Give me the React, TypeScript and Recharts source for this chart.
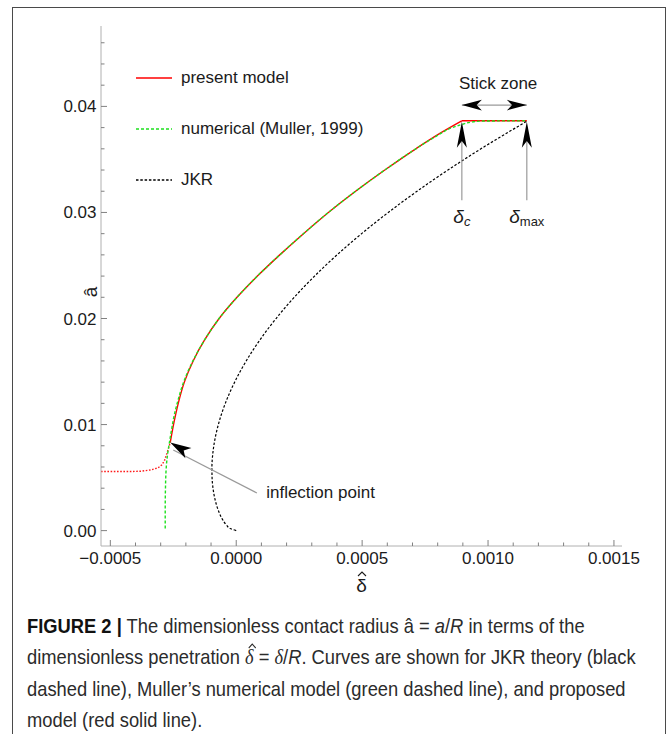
import React from 'react';
import { LineChart, Line, XAxis, YAxis, ReferenceLine, ReferenceDot, Legend } from 'recharts';

// present model, solid branch (delta-hat, a-hat), from the inflection point up to delta_c
const modelDelta = [-0.000262, -0.000253, -0.00024, -0.000227, -0.000206, -0.000171, -0.000125, -0.000068, 0.000003, 0.000084, 0.000173, 0.000267, 0.000366, 0.000474, 0.00059, 0.000713, 0.000812, 0.000896];
const modelA = [0.0083, 0.0095, 0.011, 0.0123, 0.014, 0.016, 0.018, 0.02, 0.022, 0.024, 0.026, 0.028, 0.03, 0.032, 0.034, 0.036, 0.0375, 0.03864];

// present model, flat branch in the stick zone
const modelFlatDelta = [0.000896, 0.001154];
const modelFlatA = [0.03864, 0.03864];

// present model, dotted branch below the inflection point
const modelDotDelta = [-0.000537, -0.00042, -0.00038, -0.00034, -0.00031, -0.000295, -0.000285, -0.000275, -0.000262];
const modelDotA = [0.00557, 0.00557, 0.0056, 0.00572, 0.00592, 0.0062, 0.0066, 0.0073, 0.0083];

// numerical (Muller, 1999)
const mullerDelta = [-0.000282, -0.000282, -0.000281, -0.000279, -0.000276, -0.000272, -0.000266, -0.000257, -0.000245, -0.000231, -0.000209, -0.000172, -0.000125, -0.000068, 0.000003, 0.000084, 0.000173, 0.000267, 0.000366, 0.000474, 0.00059, 0.000713, 0.000795, 0.000858, 0.0009, 0.000935, 0.000975, 0.001154];
const mullerA = [0.0002, 0.002, 0.004, 0.0055, 0.0065, 0.0073, 0.0082, 0.0095, 0.011, 0.0123, 0.014, 0.016, 0.018, 0.02, 0.022, 0.024, 0.026, 0.028, 0.03, 0.032, 0.034, 0.036, 0.0372, 0.038, 0.03832, 0.03852, 0.03862, 0.03864];

// JKR
const jkrDelta = [0, -0.0000242, -0.0000382, -0.0000531, -0.0000725, -0.0000847, -0.0000922, -0.0000959, -0.0000965, -0.0000941, -0.000089, -0.000071, -0.0000433, -0.0000063, 0.0000397, 0.0000946, 0.0001582, 0.0002304, 0.0003111, 0.0004003, 0.0004979, 0.0006038, 0.0007181, 0.0008407, 0.0009716, 0.001154];
const jkrA = [0, 0.0002, 0.0005, 0.001, 0.002, 0.003, 0.004, 0.005, 0.006, 0.007, 0.008, 0.01, 0.012, 0.014, 0.016, 0.018, 0.02, 0.022, 0.024, 0.026, 0.028, 0.03, 0.032, 0.034, 0.036, 0.0386];

const xTicks = [-0.0005, -0.0004, -0.0003, -0.0002, -0.0001, 0, 0.0001, 0.0002, 0.0003, 0.0004, 0.0005, 0.0006, 0.0007, 0.0008, 0.0009, 0.001, 0.0011, 0.0012, 0.0013, 0.0014, 0.0015];
const yTicks = [0, 0.002, 0.004, 0.006, 0.008, 0.01, 0.012, 0.014, 0.016, 0.018, 0.02, 0.022, 0.024, 0.026, 0.028, 0.03, 0.032, 0.034, 0.036, 0.038, 0.04, 0.042, 0.044, 0.046];

const xDomain = [-0.000537, 0.001532];
const yDomain = [-0.00145, 0.04758];

const legendOrder = ['present model', 'numerical (Muller, 1999)', 'JKR'];

// annotation anchors
const deltaC = 0.000896;
const deltaMax = 0.001154;

const zip = (xs: number[], ys: number[]) => xs.map((d, i) => ({ d, a: ys[i] }));
const modelData = zip(modelDelta, modelA);
const modelFlatData = zip(modelFlatDelta, modelFlatA);
const modelDotData = zip(modelDotDelta, modelDotA);
const mullerData = zip(mullerDelta, mullerA);
const jkrData = zip(jkrDelta, jkrA);

const FONT = '"Liberation Sans", Arial, Helvetica, sans-serif';
const INK = '#1b1b1b';
const FRAME = '#b0b0b0';
const TICK = '#808080';
const RED = '#ff0000';
const GREEN = '#1ee01e';

const isMajor = (v: number, step: number) => Math.abs(v / step - Math.round(v / step)) < 1e-6;
const fmtX = (v: number) => (v < -1e-9 ? '\u2212' : '') + Math.abs(v).toFixed(4);
const fmtY = (v: number) => v.toFixed(2);

const FrameTick = (props: any) => {
  const { x, y, payload, side } = props;
  const v = payload.value;
  const horiz = side === 'bottom' || side === 'top';
  const major = isMajor(v, horiz ? 0.0005 : 0.01);
  const len = major ? 6 : 3.5;
  let x2 = x;
  let y2 = y;
  if (side === 'bottom') y2 = y - len;
  if (side === 'top') y2 = y + len;
  if (side === 'left') x2 = x + len;
  if (side === 'right') x2 = x - len;
  return (
    <g>
      <line x1={x} y1={y} x2={x2} y2={y2} stroke={TICK} strokeWidth={1} />
      {major && side === 'bottom' && (
        <text x={x} y={y + 18} textAnchor="middle" fontFamily={FONT} fontSize={17} fill={INK}>
          {fmtX(v)}
        </text>
      )}
      {major && side === 'left' && (
        <text x={x - 4.5} y={y + 6} textAnchor="end" fontFamily={FONT} fontSize={17} fill={INK}>
          {fmtY(v)}
        </text>
      )}
    </g>
  );
};

const ArrowHead = ({ cx, cy, angle, len, half }: any) => (
  <polygon
    points={`0,0 ${-len},${-half} ${-len * 0.74},0 ${-len},${half}`}
    transform={`translate(${cx},${cy}) rotate(${angle})`}
    fill="#000"
  />
);

const legendDash: Record<string, string | undefined> = {
  'present model': undefined,
  'numerical (Muller, 1999)': '3 2',
  JKR: '2.5 1.8',
};

const renderLegend = (props: any) => {
  const items = (props.payload || [])
    .filter((p: any) => legendOrder.includes(p.value))
    .sort((p: any, q: any) => legendOrder.indexOf(p.value) - legendOrder.indexOf(q.value));
  return (
    <div>
      {items.map((p: any) => (
        <div key={p.value} style={{ height: 32, marginBottom: 19.3, display: 'flex', alignItems: 'center' }}>
          <svg width={36} height={32} style={{ display: 'block' }}>
            <line x1={0} y1={16} x2={36} y2={16} stroke={p.color} strokeWidth={1.5} strokeDasharray={legendDash[p.value]} />
          </svg>
          <span style={{ marginLeft: 9, fontFamily: FONT, fontSize: 17, color: INK, whiteSpace: 'nowrap' }}>{p.value}</span>
        </div>
      ))}
    </div>
  );
};

const note = (content: React.ReactNode, anchor: string = 'middle') => (p: any) => (
  <text x={p.cx} y={p.cy} textAnchor={anchor} dominantBaseline="central" fontFamily={FONT} fontSize={17} fill={INK}>
    {content}
  </text>
);

// delta with a drawn circumflex (caption)
const HatDelta = () => (
  <span style={{ position: 'relative', display: 'inline-block', fontFamily: '"Liberation Serif", serif', fontStyle: 'italic' }}>
    δ
    <svg width={10} height={6} style={{ position: 'absolute', left: 3, top: 1 }}>
      <polyline points="1,5 5,1 9,5" fill="none" stroke="#2b2b2b" strokeWidth={1.1} />
    </svg>
  </span>
);

export default function App() {
  return (
    <div style={{ position: 'absolute', left: 0, top: 0, width: 667, height: 734, background: '#fff', overflow: 'hidden' }}>
      <div
        style={{
          position: 'absolute',
          left: 12,
          top: 7,
          width: 652,
          height: 760,
          borderLeft: '1.5px solid #4a4a4a',
          borderTop: '1.5px solid #4a4a4a',
          borderRight: '1.5px solid #4a4a4a',
        }}
      />
      <div style={{ position: 'absolute', left: 0, top: 0 }}>
        <LineChart width={667} height={600} margin={{ top: 26, right: 45, bottom: 14, left: 0 }}>
          <XAxis
            dataKey="d"
            type="number"
            domain={xDomain}
            allowDataOverflow
            ticks={xTicks}
            interval={0}
            height={40}
            tickSize={0}
            tickMargin={0}
            tickLine={false}
            axisLine={{ stroke: FRAME }}
            tick={<FrameTick side="bottom" />}
            label={{
              content: (p: any) => {
                const cx = p.viewBox.x + p.viewBox.width / 2;
                const by = p.viewBox.y + 46;
                return (
                  <g>
                    <text x={cx} y={by} textAnchor="middle" fontFamily={FONT} fontSize={19} fill={INK}>δ</text>
                    <polyline points={`${cx - 3.5},${by - 16} ${cx + 0.5},${by - 20} ${cx + 4.5},${by - 16}`} fill="none" stroke={INK} strokeWidth={1.1} />
                  </g>
                );
              },
            }}
          />
          <XAxis
            xAxisId="t"
            orientation="top"
            dataKey="d"
            type="number"
            domain={xDomain}
            allowDataOverflow
            ticks={xTicks}
            interval={0}
            height={0}
            tickSize={0}
            tickMargin={0}
            tickLine={false}
            axisLine={{ stroke: FRAME }}
            tick={<FrameTick side="top" />}
          />
          <YAxis
            type="number"
            domain={yDomain}
            allowDataOverflow
            ticks={yTicks}
            interval={0}
            width={101}
            tickSize={0}
            tickMargin={0}
            tickLine={false}
            axisLine={{ stroke: FRAME }}
            tick={<FrameTick side="left" />}
            label={{
              content: () => (
                <text
                  x={90}
                  y={292}
                  transform="rotate(-90 90 292)"
                  textAnchor="middle"
                  dominantBaseline="central"
                  fontFamily={FONT}
                  fontSize={19}
                  fill={INK}
                >
                  â
                </text>
              ),
            }}
          />
          <YAxis
            yAxisId="r"
            orientation="right"
            type="number"
            domain={yDomain}
            allowDataOverflow
            ticks={yTicks}
            interval={0}
            width={0}
            tickSize={0}
            tickMargin={0}
            tickLine={false}
            axisLine={{ stroke: FRAME }}
            tick={<FrameTick side="right" />}
          />

          <Line data={modelDotData} dataKey="a" type="linear" stroke="#ff1a1a" strokeWidth={1.4} strokeDasharray="1.6 1.6" dot={false} activeDot={false} legendType="none" isAnimationActive={false} />
          <Line data={modelData} dataKey="a" name="present model" type="monotoneY" stroke={RED} strokeWidth={1.4} dot={false} activeDot={false} isAnimationActive={false} />
          <Line data={modelFlatData} dataKey="a" type="linear" stroke={RED} strokeWidth={1.4} dot={false} activeDot={false} legendType="none" isAnimationActive={false} />
          <Line data={mullerData} dataKey="a" name="numerical (Muller, 1999)" type="monotoneY" stroke={GREEN} strokeWidth={1.4} strokeDasharray="3 2" dot={false} activeDot={false} isAnimationActive={false} />
          <Line data={jkrData} dataKey="a" name="JKR" type="monotoneY" stroke="#000" strokeWidth={1.2} strokeDasharray="2.5 1.8" dot={false} activeDot={false} isAnimationActive={false} />

          {/* stick zone double arrow */}
          <ReferenceLine segment={[{ x: deltaC, y: 0.04012 }, { x: deltaMax, y: 0.04012 }]} stroke="#9a9a9a" strokeWidth={1.2} />
          <ReferenceDot x={deltaC} y={0.04012} r={0} shape={(p: any) => <ArrowHead cx={p.cx} cy={p.cy} angle={180} len={20} half={5.3} />} />
          <ReferenceDot x={deltaMax} y={0.04012} r={0} shape={(p: any) => <ArrowHead cx={p.cx} cy={p.cy} angle={0} len={20} half={5.3} />} />
          <ReferenceDot x={0.00104} y={0.0422} r={0} shape={note('Stick zone')} />

          {/* delta_c and delta_max markers */}
          <ReferenceLine segment={[{ x: deltaC, y: 0.03116 }, { x: deltaC, y: 0.0375 }]} stroke="#9a9a9a" strokeWidth={1.2} />
          <ReferenceDot x={deltaC} y={0.03855} r={0} shape={(p: any) => <ArrowHead cx={p.cx} cy={p.cy} angle={-90} len={26} half={5} />} />
          <ReferenceDot
            x={deltaC}
            y={0.0297}
            r={0}
            shape={note(
              <>
                <tspan fontStyle="italic" fontSize={19}>δ</tspan>
                <tspan fontStyle="italic" fontSize={13} dy={5}>c</tspan>
              </>,
            )}
          />
          <ReferenceLine segment={[{ x: deltaMax, y: 0.03116 }, { x: deltaMax, y: 0.0375 }]} stroke="#9a9a9a" strokeWidth={1.2} />
          <ReferenceDot x={deltaMax} y={0.03855} r={0} shape={(p: any) => <ArrowHead cx={p.cx} cy={p.cy} angle={-90} len={26} half={5} />} />
          <ReferenceDot
            x={deltaMax}
            y={0.0297}
            r={0}
            shape={note(
              <>
                <tspan fontStyle="italic" fontSize={19}>δ</tspan>
                <tspan fontSize={13} dy={5}>max</tspan>
              </>,
            )}
          />

          {/* inflection point */}
          <ReferenceLine segment={[{ x: 0.0000821, y: 0.00355 }, { x: -0.00025, y: 0.0076 }]} stroke="#9a9a9a" strokeWidth={1.2} />
          <ReferenceDot x={-0.000262} y={0.0083} r={0} shape={(p: any) => <ArrowHead cx={p.cx} cy={p.cy} angle={210.2} len={21} half={6} />} />
          <ReferenceDot x={0.000119} y={0.00361} r={0} shape={note('inflection point', 'start')} />

          <Legend
            content={renderLegend}
            layout="horizontal"
            verticalAlign="middle"
            align="center"
            wrapperStyle={{ position: 'absolute', left: 136, top: 61.5, width: 260, height: 150 }}
          />
        </LineChart>
      </div>
      <div
        style={{
          position: 'absolute',
          left: 27,
          top: 610,
          width: 720,
          fontFamily: FONT,
          fontSize: 21,
          lineHeight: '31px',
          color: '#2b2b2b',
          whiteSpace: 'nowrap',
          transform: 'scaleX(0.873)',
          transformOrigin: '0 0',
        }}
      >
        <div>
          <b style={{ color: '#111' }}>FIGURE 2 |</b> The dimensionless contact radius â = <i>a</i>/<i>R</i> in terms of the
        </div>
        <div>
          dimensionless penetration <HatDelta /> = <i style={{ fontFamily: '"Liberation Serif", serif' }}>δ</i>/<i>R</i>. Curves are shown for JKR theory (black
        </div>
        <div>dashed line), Muller’s numerical model (green dashed line), and proposed</div>
        <div>model (red solid line).</div>
      </div>
    </div>
  );
}
